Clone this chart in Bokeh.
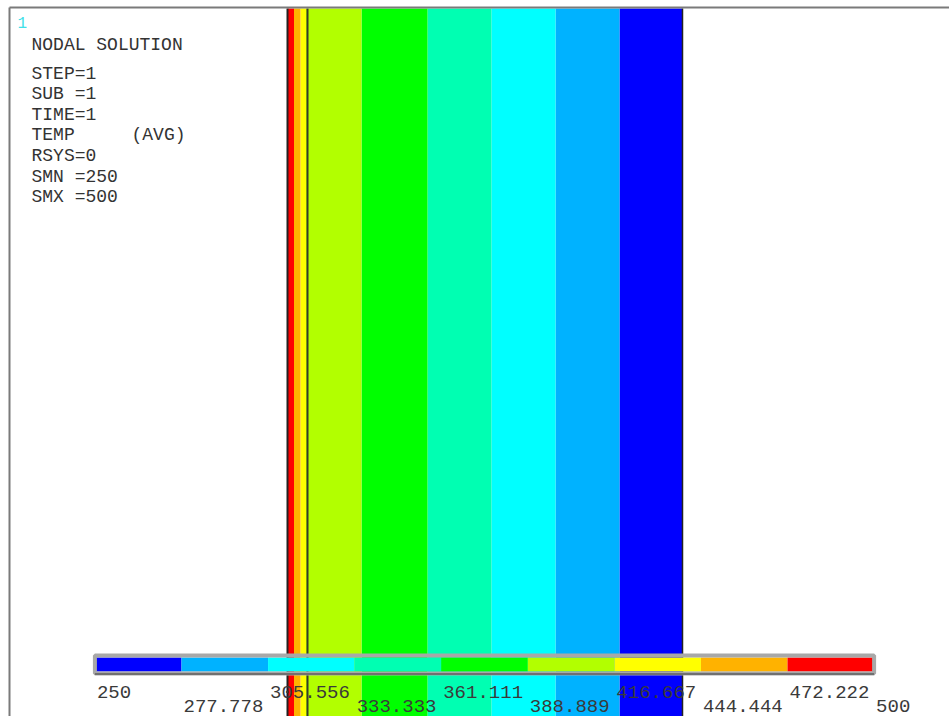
from bokeh.plotting import figure
from bokeh.models import Range1d, Label, ColumnDataSource
from bokeh.core.properties import value
from bokeh.embed import file_html
from bokeh.resources import INLINE

# ---- data ----
levels = [250, 277.778, 305.556, 333.333, 361.111, 388.889, 416.667, 444.444, 472.222, 500]
level_labels = ["250", "277.778", "305.556", "333.333", "361.111", "388.889",
                "416.667", "444.444", "472.222", "500"]
band_colors = ["#0000FF", "#00B2FF", "#00FFFF", "#00FFB2", "#00FF00",
               "#B2FF00", "#FFFF00", "#FFB200", "#FF0000"]
# distance (mm) from hot face where temperature equals each level
iso_x = [395, 332, 268, 204, 140, 74, 18.5, 13, 6.5, 0]
# wall faces and material interface (mm)
wall_lines = [0, 20, 395]
info_lines = ["STEP=1", "SUB =1", "TIME=1", "TEMP", "RSYS=0", "SMN =250", "SMX =500"]

W, H = 949, 716
p = figure(width=W, height=H, output_backend="svg", toolbar_location=None,
           x_range=Range1d(-287, 662), y_range=Range1d(0, H), min_border=0)
p.axis.visible = False
p.grid.visible = False
p.outline_line_color = None
p.background_fill_color = "white"
p.border_fill_color = "white"

# contour bands of the wall
band_src = ColumnDataSource(dict(
    left=[min(iso_x[i], iso_x[i + 1]) for i in range(9)],
    right=[max(iso_x[i], iso_x[i + 1]) for i in range(9)],
    color=band_colors))
p.quad(left="left", right="right", top=H - 8, bottom=0, fill_color="color",
       line_color=None, source=band_src)

for xw, lc, lw in zip(wall_lines, ["#222222", "#3a3a2a", "#222222"], [2, 2, 1.5]):
    p.segment(x0=[xw], x1=[xw], y0=[0], y1=[H - 8], line_color=lc, line_width=lw)

# window frame (top and left)
p.segment(x0=[-278], x1=[662], y0=[H - 7], y1=[H - 7], line_color="#7a7a7a", line_width=2)
p.segment(x0=[-278], x1=[-278], y0=[0], y1=[H - 7], line_color="#7a7a7a", line_width=2)

# ---- colour bar on its own level scale ----
p.extra_x_ranges = {"lvl": Range1d(219.71, 524.19)}
bar_src = ColumnDataSource(dict(left=levels[:-1], right=levels[1:], color=band_colors))
p.quad(left="left", right="right", top=59, bottom=45, fill_color="color",
       line_color=None, source=bar_src, x_range_name="lvl")
p.quad(left=[levels[0]], right=[levels[-1]], top=[61], bottom=[43], fill_color=None,
       line_color="#a8a8a8", line_width=4, x_range_name="lvl")
p.segment(x0=[levels[0]], x1=[levels[-1]], y0=[42.5], y1=[42.5],
          line_color="#707070", line_width=2, x_range_name="lvl")

row_y = [25 if i % 2 == 0 else 11 for i in range(len(levels))]
lab_src = ColumnDataSource(dict(x=levels, y=row_y, t=level_labels))
p.text(x="x", y="y", text="t", source=lab_src, x_range_name="lvl",
       text_font=value("Liberation Mono"), text_font_size="19px",
       text_color="#3a3a3a", text_align="left", text_baseline="middle", x_offset=2)

# ---- header texts ----
font = "Liberation Mono"
p.add_layout(Label(x=17, y=H - 22, x_units="screen", y_units="screen", text="1",
                   text_font=font, text_font_size="16px", text_color="#40e0e8",
                   text_baseline="middle"))
p.add_layout(Label(x=31, y=H - 44, x_units="screen", y_units="screen",
                   text="NODAL SOLUTION", text_font=font, text_font_size="18px",
                   text_color="#333333", text_baseline="middle"))
for i, t in enumerate(info_lines):
    yy = H - (73 + i * 20.6)
    p.add_layout(Label(x=31, y=yy, x_units="screen", y_units="screen", text=t,
                       text_font=font, text_font_size="18px", text_color="#333333",
                       text_baseline="middle"))
    if t == "TEMP":
        p.add_layout(Label(x=131, y=yy, x_units="screen", y_units="screen",
                           text="(AVG)", text_font=font, text_font_size="18px",
                           text_color="#333333", text_baseline="middle"))

open("out.html", "w").write(file_html(p, INLINE))
